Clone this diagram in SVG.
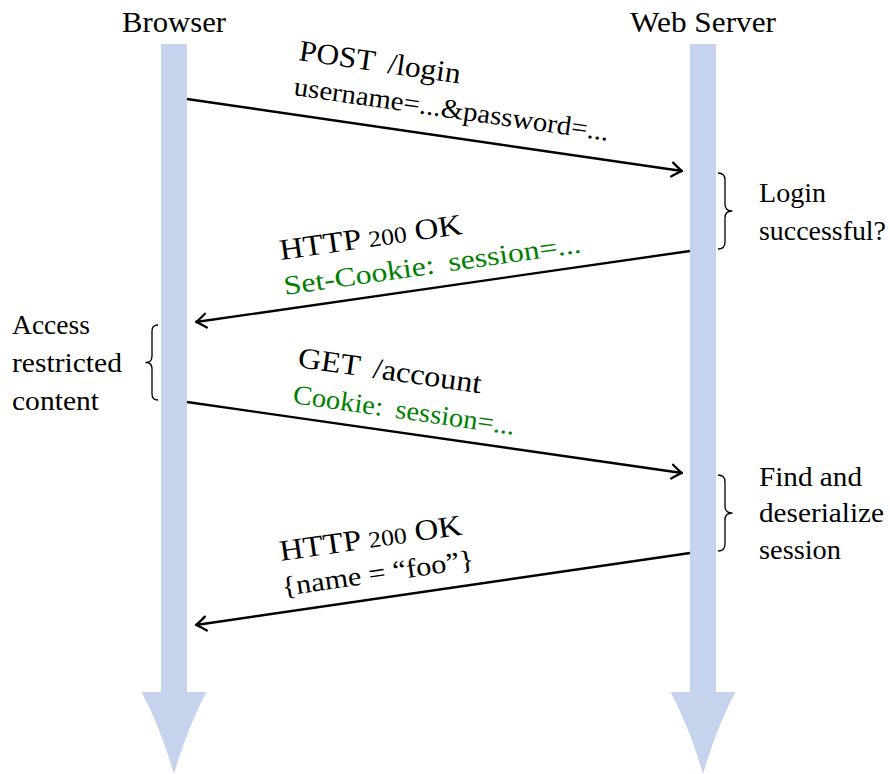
<svg xmlns="http://www.w3.org/2000/svg" width="890" height="774" viewBox="0 0 890 774">
  <style>
    text { font-family: "Liberation Serif", "Times New Roman", serif; fill: #000; }
    .head { font-size: 29px; text-anchor: middle; }
    .note { font-size: 26.5px; }
    .msg { font-size: 29.5px; }
    .sub { font-size: 27px; }
    .green { fill: #008000; }
    .osf { font-size: 23px; }
    .lifeline { fill: #c5d3ec; }
    .wire { fill: none; stroke: #000; stroke-width: 2.4; }
    .brace { fill: none; stroke: #000; stroke-width: 1.3; stroke-linejoin: round; }
  </style>
  <defs>
    <marker id="tip" markerUnits="userSpaceOnUse" viewBox="-12 -9 14 18" refX="0" refY="0" markerWidth="14" markerHeight="18" orient="auto" overflow="visible">
      <path d="M -10,-7 Q -3,-1.6 0,0 Q -3,1.6 -10,7" fill="none" stroke="#000" stroke-width="2.2" stroke-linecap="round" stroke-linejoin="round"/>
    </marker>
  </defs>

  <rect width="890" height="774" fill="#fff"/>

  <!-- lifelines: a thick shaft ending in a concave arrowhead -->
  <g id="browser">
    <path class="lifeline" d="M161,44 H187 V692 H206.5 Q188,726 174,774 Q160,726 141.5,692 H161 Z"/>
    <text class="head" x="174" y="32" textLength="104" lengthAdjust="spacingAndGlyphs">Browser</text>
  </g>
  <g id="web-server">
    <path class="lifeline" d="M690,44 H716 V692 H735.5 Q717,726 703,774 Q689,726 670.5,692 H690 Z"/>
    <text class="head" x="703" y="32" textLength="146" lengthAdjust="spacingAndGlyphs">Web Server</text>
  </g>

  <!-- request / response messages -->
  <g id="connectors">
    <line class="wire" x1="187" y1="99" x2="682" y2="171" marker-end="url(#tip)"/>
    <line class="wire" x1="690" y1="251" x2="196" y2="322" marker-end="url(#tip)"/>
    <line class="wire" x1="187" y1="402" x2="682" y2="473" marker-end="url(#tip)"/>
    <line class="wire" x1="690" y1="553" x2="196" y2="625" marker-end="url(#tip)"/>
  </g>

  <g id="msg-login">
    <text class="msg" transform="translate(298,60) rotate(8.28)" textLength="163" lengthAdjust="spacingAndGlyphs">POST<tspan dx="12">/login</tspan></text>
    <text class="sub" transform="translate(293,95) rotate(8.28)" textLength="318" lengthAdjust="spacingAndGlyphs">username=...&amp;password=...</text>
  </g>
  <g id="msg-login-ok">
    <text class="msg" transform="translate(281,260) rotate(-8.18)" textLength="184" lengthAdjust="spacingAndGlyphs">HTTP <tspan class="osf">200</tspan> OK</text>
    <text class="sub green" transform="translate(285,295) rotate(-8.18)" textLength="300" lengthAdjust="spacingAndGlyphs">Set-Cookie:<tspan dx="12">session=...</tspan></text>
  </g>
  <g id="msg-account">
    <text class="msg" transform="translate(297,367) rotate(8.16)" textLength="185" lengthAdjust="spacingAndGlyphs">GET<tspan dx="12">/account</tspan></text>
    <text class="sub green" transform="translate(292,403) rotate(8.16)" textLength="224" lengthAdjust="spacingAndGlyphs">Cookie:<tspan dx="12">session=...</tspan></text>
  </g>
  <g id="msg-account-ok">
    <text class="msg" transform="translate(281,561) rotate(-8.29)" textLength="184" lengthAdjust="spacingAndGlyphs">HTTP <tspan class="osf">200</tspan> OK</text>
    <text class="sub" transform="translate(283,596) rotate(-8.29)" textLength="194" lengthAdjust="spacingAndGlyphs">{name = “foo”}</text>
  </g>

  <!-- annotations with curly braces -->
  <g id="note-login">
    <path class="brace" d="M718,173 Q725,173 725,180 L725,204 Q725,211 732,211 Q725,211 725,218 L725,242 Q725,249 718,249"/>
    <text class="note" x="759" y="202" textLength="67" lengthAdjust="spacingAndGlyphs">Login</text>
    <text class="note" x="759" y="240" textLength="127" lengthAdjust="spacingAndGlyphs">successful?</text>
  </g>
  <g id="note-access">
    <path class="brace" d="M158,325 Q152,325 152,331 L152,356 Q152,362.5 146,362.5 Q152,362.5 152,369 L152,394 Q152,400 158,400"/>
    <text class="note" x="12" y="334" textLength="78" lengthAdjust="spacingAndGlyphs">Access</text>
    <text class="note" x="12" y="372" textLength="110" lengthAdjust="spacingAndGlyphs">restricted</text>
    <text class="note" x="12" y="410" textLength="87" lengthAdjust="spacingAndGlyphs">content</text>
  </g>
  <g id="note-session">
    <path class="brace" d="M718,475 Q725,475 725,482 L725,506 Q725,513 732,513 Q725,513 725,520 L725,544 Q725,551 718,551"/>
    <text class="note" x="759" y="486" textLength="103" lengthAdjust="spacingAndGlyphs">Find and</text>
    <text class="note" x="759" y="522" textLength="125" lengthAdjust="spacingAndGlyphs">deserialize</text>
    <text class="note" x="759" y="559" textLength="82" lengthAdjust="spacingAndGlyphs">session</text>
  </g>
</svg>
